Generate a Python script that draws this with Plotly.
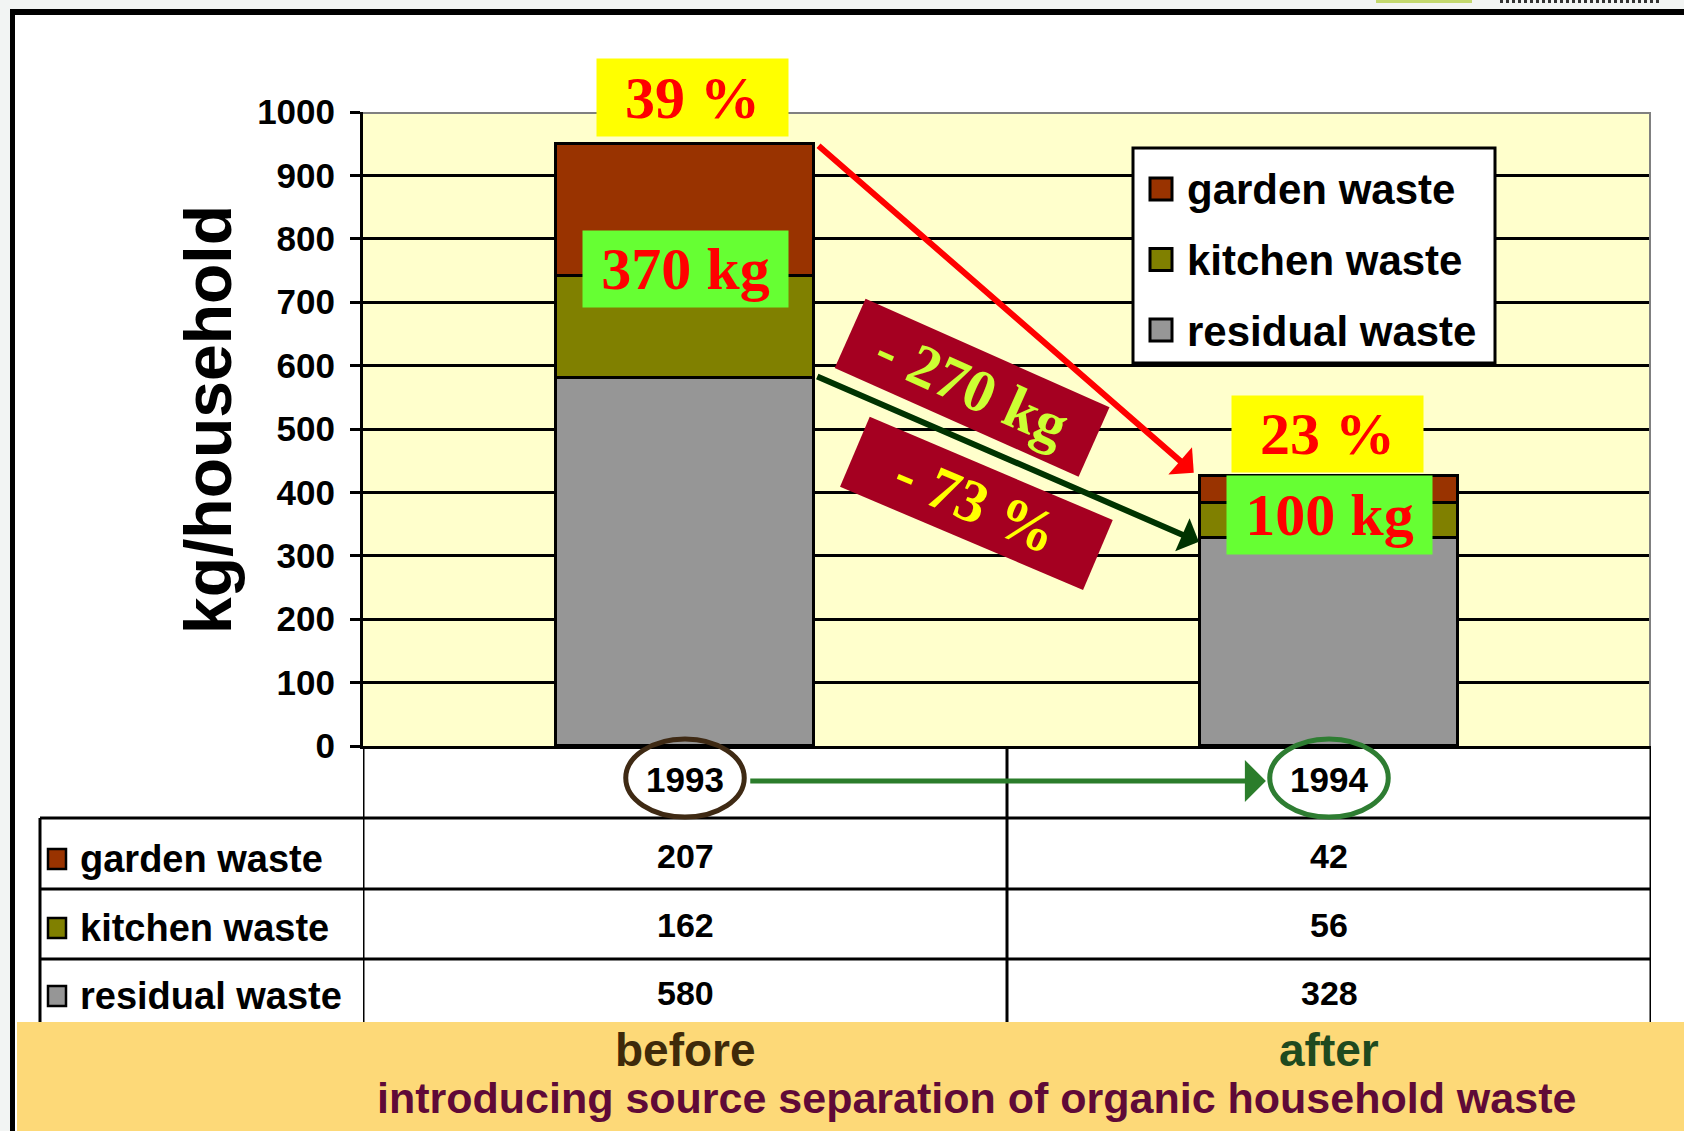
import plotly.graph_objects as go

# ---------------- data ----------------
years = ["1993", "1994"]
phases = ["before", "after"]
categories = ["garden waste", "kitchen waste", "residual waste"]
garden = [207, 42]
kitchen = [162, 56]
residual = [580, 328]
y_ticks = [0, 100, 200, 300, 400, 500, 600, 700, 800, 900, 1000]
subtitle = "introducing source separation of organic household waste"
y_title = "kg/household"

# ---------------- derived ----------------
xpos = list(range(len(years)))
organic = [g + k for g, k in zip(garden, kitchen)]
total = [g + k + r for g, k, r in zip(garden, kitchen, residual)]
share = [round(100 * o / t) for o, t in zip(organic, total)]
organic_kg = [int(round(o, -1)) for o in organic]
cut_kg = int(round(organic[0] - organic[1], -1))
cut_pct = round(100 * (organic[0] - organic[1]) / organic[0])
values = {"garden waste": garden, "kitchen waste": kitchen, "residual waste": residual}

# ---------------- styles ----------------
W, H = 1684, 1131
COL = {"garden waste": "#993300", "kitchen waste": "#808000", "residual waste": "#969696"}
SANS = "Liberation Sans, Arial, sans-serif"
SERIF = "Liberation Serif, Times New Roman, serif"


def X(px):
    return px / W


def Y(py):
    return 1 - py / H


fig = go.Figure()
for name, vals in [("residual waste", residual), ("kitchen waste", kitchen), ("garden waste", garden)]:
    fig.add_trace(go.Bar(
        x=xpos, y=vals, width=0.4, name=name,
        marker=dict(color=COL[name], line=dict(color="black", width=3)),
        showlegend=False,
    ))

shapes = []
annots = []

# outer gray strips + black frame
shapes += [
    dict(type="rect", xref="paper", yref="paper", x0=0, x1=X(10), y0=0, y1=1,
         fillcolor="#F2F4F3", line_width=0, layer="above"),
    dict(type="rect", xref="paper", yref="paper", x0=0, x1=1, y0=Y(9), y1=1,
         fillcolor="#F2F4F3", line_width=0, layer="above"),
    dict(type="line", xref="paper", yref="paper", x0=X(12.5), x1=X(12.5), y0=0, y1=Y(9),
         line=dict(color="black", width=5), layer="above"),
    dict(type="line", xref="paper", yref="paper", x0=X(10), x1=1, y0=Y(12), y1=Y(12),
         line=dict(color="black", width=6), layer="above"),
    dict(type="rect", xref="paper", yref="paper", x0=X(1376), x1=X(1472), y0=Y(3), y1=1,
         fillcolor="#C3D86E", line_width=0, layer="above"),
    dict(type="line", xref="paper", yref="paper", x0=X(1500), x1=X(1660), y0=Y(1.5), y1=Y(1.5),
         line=dict(color="#333333", width=3, dash="dot"), layer="above"),
]

# gray plot border top/right
shapes += [
    dict(type="line", xref="x", yref="y", x0=-0.5, x1=1.5, y0=1000, y1=1000,
         line=dict(color="#808080", width=4), layer="above"),
    dict(type="line", xref="x", yref="y", x0=1.5, x1=1.5, y0=0, y1=1000,
         line=dict(color="#808080", width=4), layer="above"),
]

# legend box
shapes.append(dict(type="rect", xref="paper", yref="paper", x0=X(1133), x1=X(1495),
                   y0=Y(363), y1=Y(148), fillcolor="white",
                   line=dict(color="black", width=3), layer="above"))
for i, name in enumerate(categories):
    cy = 189 + 70.5 * i
    shapes.append(dict(type="rect", xref="paper", yref="paper", x0=X(1150), x1=X(1172),
                       y0=Y(cy + 11), y1=Y(cy - 11), fillcolor=COL[name],
                       line=dict(color="black", width=3), layer="above"))
    annots.append(dict(xref="paper", yref="paper", x=X(1185), y=Y(cy + 1), text=name,
                       showarrow=False, xanchor="left", yanchor="middle",
                       font=dict(family=SANS, size=42, color="black", weight="bold")))

# table lines
tl = dict(color="black", width=3)
for yy in [818, 889, 959]:
    shapes.append(dict(type="line", xref="paper", yref="paper", x0=X(40), x1=X(1651),
                       y0=Y(yy), y1=Y(yy), line=tl, layer="above"))
for xx in [-0.5, 0.5, 1.5]:
    shapes.append(dict(type="line", xref="x", yref="paper", x0=xx, x1=xx,
                       y0=Y(1024), y1=Y(746), line=tl, layer="above"))
shapes.append(dict(type="line", xref="paper", yref="paper", x0=X(40), x1=X(40),
                   y0=Y(1024), y1=Y(818), line=tl, layer="above"))

# table rows
row_y = [856, 925, 993]
for r, name in enumerate(categories):
    cy = row_y[r]
    shapes.append(dict(type="rect", xref="paper", yref="paper", x0=X(48), x1=X(66),
                       y0=Y(cy + 13), y1=Y(cy - 7), fillcolor=COL[name],
                       line=dict(color="black", width=2.5), layer="above"))
    annots.append(dict(xref="paper", yref="paper", x=X(78), y=Y(cy + 3), text=name,
                       showarrow=False, xanchor="left", yanchor="middle",
                       font=dict(family=SANS, size=38, color="black", weight="bold")))
    for i in xpos:
        annots.append(dict(xref="x", yref="paper", x=i, y=Y(cy), text=str(values[name][i]),
                           showarrow=False, xanchor="center", yanchor="middle",
                           font=dict(family=SANS, size=34, color="black", weight="bold")))

# year labels + ellipses
ell_col = ["#3F2A14", "#2E7D32"]
for i in xpos:
    shapes.append(dict(type="circle", xref="x", yref="paper", x0=i - 0.092, x1=i + 0.092,
                       y0=Y(817), y1=Y(739), line=dict(color=ell_col[i], width=5), layer="above"))
    annots.append(dict(xref="x", yref="paper", x=i, y=Y(779), text=years[i], showarrow=False,
                       xanchor="center", yanchor="middle",
                       font=dict(family=SANS, size=35, color="black", weight="bold")))
annots.append(dict(xref="x", yref="paper", x=0.902, y=Y(781), axref="x", ayref="pixel",
                   ax=0.099, ay=0, text="", showarrow=True, arrowhead=1, arrowsize=1.4,
                   arrowwidth=5, arrowcolor="#2B7D2B", standoff=0))

# bottom band
shapes.append(dict(type="rect", xref="paper", yref="paper", x0=X(17), x1=1, y0=0, y1=Y(1022),
                   fillcolor="#FDD978", line_width=0, layer="above"))
phase_col = ["#3E2A0A", "#1F4A1F"]
for i in xpos:
    annots.append(dict(xref="x", yref="paper", x=i, y=Y(1050), text=phases[i], showarrow=False,
                       xanchor="center", yanchor="middle",
                       font=dict(family=SANS, size=46, color=phase_col[i], weight="bold")))
annots.append(dict(xref="paper", yref="paper", x=X(976), y=Y(1098), text=subtitle,
                   showarrow=False, xanchor="center", yanchor="middle",
                   font=dict(family=SANS, size=43, color="#5F0A37", weight="bold")))

# y axis title
annots.append(dict(xref="paper", yref="paper", x=X(208), y=Y(420), text=y_title,
                   showarrow=False, textangle=-90, xanchor="center", yanchor="middle",
                   font=dict(family=SANS, size=66, color="black", weight="bold")))

# trend arrows (between bar totals and between residual values)
annots.append(dict(xref="x", yref="y", axref="x", ayref="y", x=0.79, y=total[1] + 5,
                   ax=0.205, ay=total[0], text="", showarrow=True, arrowhead=1,
                   arrowsize=1, arrowwidth=6, arrowcolor="#FF0000", standoff=0))
annots.append(dict(xref="x", yref="y", axref="x", ayref="y", x=0.798, y=residual[1] - 6,
                   ax=0.203, ay=residual[0] + 4, text="", showarrow=True, arrowhead=1,
                   arrowsize=1, arrowwidth=6, arrowcolor="#003300", standoff=0))

# boxed labels
boxfont = dict(family=SERIF, size=60, color="#FF0000", weight="bold")
annots += [
    dict(xref="x", yref="y", x=0, y=total[0], xshift=7, yshift=7, yanchor="bottom",
         text=f"{share[0]} %", showarrow=False, bgcolor="#FFFF00", width=191, height=77,
         borderpad=0, valign="middle", font=boxfont),
    dict(xref="x", yref="y", x=0, y=residual[0] + kitchen[0], yshift=7, yanchor="middle",
         text=f"{organic_kg[0]} kg", showarrow=False, bgcolor="#66FF33", width=205, height=76,
         borderpad=0, valign="middle", font=boxfont),
    dict(xref="x", yref="y", x=1, y=total[1], xshift=-2, yshift=3, yanchor="bottom",
         text=f"{share[1]} %", showarrow=False, bgcolor="#FFFF00", width=191, height=76,
         borderpad=0, valign="middle", font=boxfont),
    dict(xref="x", yref="y", x=1, y=total[1], xshift=0, yshift=1, yanchor="top",
         text=f"{organic_kg[1]} kg", showarrow=False, bgcolor="#66FF33", width=205, height=78,
         borderpad=0, valign="middle", font=boxfont),
    dict(xref="x", yref="y", x=0.445, y=565, text=f"- {cut_kg} kg", showarrow=False,
         textangle=24, bgcolor="#A50021", width=266, height=75, borderpad=0, valign="middle",
         font=dict(family=SERIF, size=60, color="#CCFF33", weight="bold")),
    dict(xref="x", yref="y", x=0.453, y=383, text=f"- {cut_pct} %", showarrow=False,
         textangle=23, bgcolor="#A50021", width=263, height=75, borderpad=0, valign="middle",
         font=dict(family=SERIF, size=60, color="#FFFF00", weight="bold")),
]

fig.update_layout(
    width=W, height=H, margin=dict(l=0, r=0, t=0, b=0),
    paper_bgcolor="white", plot_bgcolor="#FFFFCC",
    barmode="stack", bargap=0,
    font=dict(family=SANS, color="black"),
    shapes=shapes, annotations=annots,
    xaxis=dict(domain=[X(363), X(1651)], range=[-0.5, 1.5], showgrid=False, zeroline=False,
               showticklabels=False, ticks="", showline=True, linecolor="black", linewidth=3,
               fixedrange=True),
    yaxis=dict(domain=[Y(746), Y(112)], range=[0, 1000], tickvals=y_ticks,
               showgrid=True, gridcolor="black", gridwidth=3, zeroline=False,
               showline=True, linecolor="black", linewidth=3,
               ticks="outside", ticklen=10, tickwidth=3, tickcolor="black",
               ticklabelstandoff=8, automargin=False,
               tickfont=dict(family=SANS, size=35, color="black", weight="bold"),
               fixedrange=True),
    hovermode=False,
)

fig.write_html(
    "out.html",
    config={"displayModeBar": False},
    post_script="document.body.style.margin='0px';document.body.style.overflow='hidden';",
)
